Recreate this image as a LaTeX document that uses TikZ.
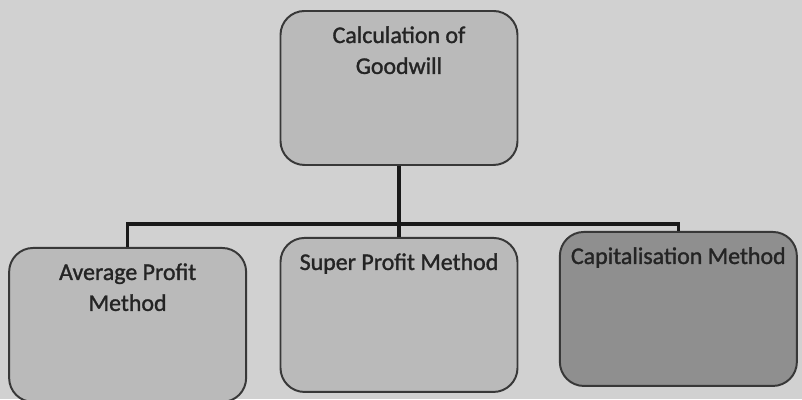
\documentclass[tikz,border=0pt]{standalone}
\usepackage{fontspec}
\setmainfont{Carlito}
\newfontfamily\boxfont{Carlito}[FakeBold=1.3]
\usetikzlibrary{positioning}

\definecolor{paper}{gray}{0.82}
\definecolor{boxfill}{gray}{0.73}
\definecolor{boxdark}{gray}{0.56}
\definecolor{edge}{gray}{0.22}
\definecolor{ink}{gray}{0.14}

% text sits at the top of each box
\newcommand{\boxlabel}[1]{\parbox[t][3.25cm][t]{5.8cm}{\centering\rule{0pt}{0.5cm}#1}}

\begin{document}
\begin{tikzpicture}[
  box/.style={draw=edge, line width=1.4pt, rounded corners=6mm,
              minimum width=5.925cm, minimum height=3.85cm,
              inner xsep=0pt, inner ysep=0.3cm, fill=boxfill, text=ink,
              font=\boxfont\fontsize{17}{22}\selectfont},
  conn/.style={draw=black!90, line width=2.2pt},
]

\path[use as bounding box, fill=paper] (0,0) rectangle (20.05,9.975);

% --- Root ---
\node[box, anchor=north] (calc) at (9.975,9.725) {\boxlabel{Calculation of\\Goodwill}};

% --- Methods ---
\node[box, below=1.775cm of calc] (super) {\boxlabel{Super Profit Method}};
\node[box, left=0.81cm of super, yshift=-0.25cm] (avg) {\boxlabel{Average Profit\\Method}};
\node[box, fill=boxdark, right=1.01cm of super, yshift=0.15cm] (cap) {\boxlabel{Capitalisation Method}};

% --- Tree lines ---
\coordinate[below=1.45cm of calc] (split);
\draw[conn] (calc.south) -- (split) -- (super.north);
\draw[conn] (avg.north) |- (split) -| (cap.north);

\end{tikzpicture}
\end{document}
